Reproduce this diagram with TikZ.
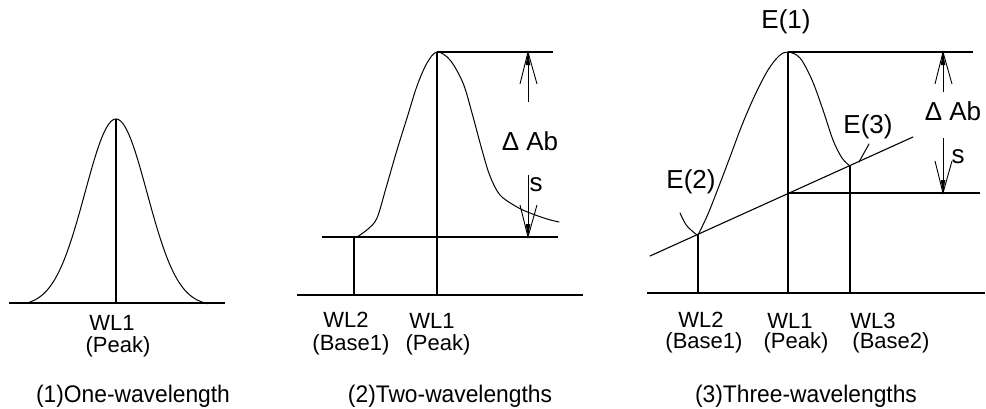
\documentclass[tikz,border=0pt]{standalone}
\usepackage{fontspec}
\setmainfont{Liberation Sans}
\begin{document}
\begin{tikzpicture}[x=1pt,y=-1pt,
  axis/.style={line width=1.4pt},
  curve/.style={line width=1pt, line join=round, line cap=round},
  lbl/.style={inner sep=0pt, font=\fontsize{22}{22}\selectfont},
  ttl/.style={inner sep=0pt, font=\fontsize{24}{24}\selectfont},
  big/.style={inner sep=0pt, font=\fontsize{26}{26}\selectfont},
  headup/.pic={
    \draw[line width=0.9pt] (-8,32) -- (0,0) -- (9,32);
    \fill (0,0) -- (-2.3,13) -- (2.3,13) -- cycle;
  },
]
\useasboundingbox (0,0) rectangle (986,408);

% ---------- Panel 1 ----------
\coordinate (p1peak) at (116,119);
\coordinate (p1foot) at (116,303);
\coordinate (p1l) at (9,303);
\coordinate (p1r) at (225,303);
\draw[axis] (p1l) -- (p1r);
\draw[axis] (p1peak) -- (p1foot);
\draw[curve] plot[domain=27:208, samples=90] (\x, {306 - 187*exp(-((\x-116)^2)/1922)});
\node[lbl] (p1wl) at (112,323) {WL1};
\node[lbl] (p1pk) at (118,347) {(Peak)};
\node[ttl, xscale=0.95] (p1t) at (133,396) {(1)One-wavelength};

% ---------- Panel 2 ----------
\coordinate (p2peak) at (437,52);
\coordinate (p2foot) at (437,295);
\coordinate (p2b1) at (354,237);
\coordinate (p2b1f) at (354,295);
\draw[axis] (297,295) -- (583,295);
\draw[axis] (322,237) -- (558,237);
\draw[axis] (p2peak) -- (553,52);
\draw[axis] (p2b1) -- (p2b1f);
\draw[axis] (p2peak) -- (p2foot);
\draw[curve] plot[smooth, tension=0.55] coordinates {(357,237) (368,229) (377,218) (386,188) (397,150) (407,118) (417,86) (427,63) (437,52) (450,60) (463,83) (472,113) (482,150) (490,176) (500,195) (517,207) (530,213) (547,219) (559,222)};
\coordinate (p2ua) at (528,52);
\coordinate (p2ub) at (528,102);
\coordinate (p2da) at (528,175);
\coordinate (p2db) at (528,237);
\draw[line width=1pt] (p2ub) -- (p2ua);
\pic at (p2ua) {headup};
\draw[line width=1pt] (p2da) -- (p2db);
\pic[yscale=-1] at (p2db) {headup};
\node[big] (p2dab) at (530,141) {Δ Ab};
\node[big] (p2s) at (536,185) {s};
\node[lbl] (p2wl2) at (346,320) {WL2};
\node[lbl] (p2bs) at (351,345) {(Base1)};
\node[lbl] (p2wl1) at (432,321) {WL1};
\node[lbl] (p2pk) at (438,345) {(Peak)};
\node[ttl, xscale=0.95] (p2t) at (450,396) {(2)Two-wavelengths};

% ---------- Panel 3 ----------
\coordinate (p3peak) at (788,52);
\coordinate (p3foot) at (788,293);
\coordinate (p3mid) at (788,193);
\coordinate (p3e2) at (698,235);
\coordinate (p3e2f) at (698,293);
\coordinate (p3e3) at (850,166);
\coordinate (p3e3f) at (850,293);
\draw[axis] (647,293) -- (985,293);
\draw[axis] (p3peak) -- (973,52);
\draw[axis] (p3mid) -- (980,193);
\draw[curve, line width=1.1pt] (650,256) -- (913,137);
\draw[axis] (p3e2) -- (p3e2f);
\draw[axis] (p3peak) -- (p3foot);
\draw[axis] (p3e3) -- (p3e3f);
\draw[curve] plot[smooth, tension=0.55] coordinates {(698,235) (708,214) (719,186) (730,157) (742,125) (755,95) (768,70) (779,56) (788,52) (800,58) (812,80) (823,110) (833,140) (842,158) (850,166)};
\draw[curve] (680,213) .. controls (686,226) .. (697,235);
\draw[curve] (869,144) -- (859,162);
\coordinate (p3ua) at (943,52);
\coordinate (p3ub) at (943,92);
\coordinate (p3da) at (943,138);
\coordinate (p3db) at (943,193);
\draw[line width=1pt] (p3ub) -- (p3ua);
\pic at (p3ua) {headup};
\draw[line width=1pt] (p3da) -- (p3db);
\pic[yscale=-1] at (p3db) {headup};
\node[big] (p3E1) at (786,22) {E(1)};
\node[big] (p3E2) at (691,182) {E(2)};
\node[big] (p3E3) at (868,127) {E(3)};
\node[big] (p3dab) at (953,111) {Δ Ab};
\node[big] (p3s) at (958,157) {s};
\node[lbl] (p3wl2) at (701,320) {WL2};
\node[lbl] (p3bs1) at (704,343) {(Base1)};
\node[lbl] (p3wl1) at (790,321) {WL1};
\node[lbl] (p3pk) at (796,343) {(Peak)};
\node[lbl] (p3wl3) at (873,321) {WL3};
\node[lbl] (p3bs2) at (891,343) {(Base2)};
\node[ttl, xscale=0.95] (p3t) at (806,396) {(3)Three-wavelengths};
\end{tikzpicture}
\end{document}
